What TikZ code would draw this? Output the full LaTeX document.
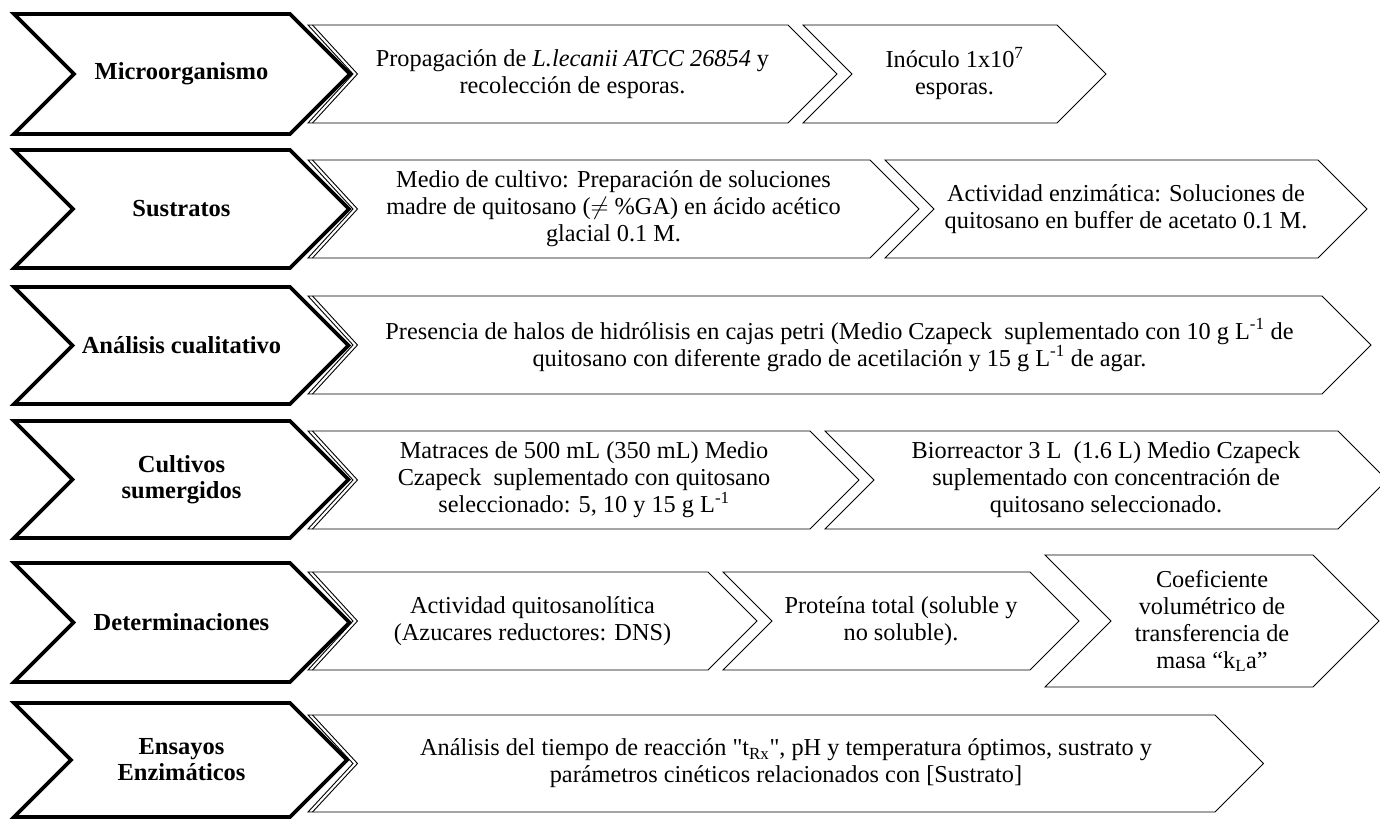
\documentclass[tikz,border=0pt]{standalone}
\usepackage{fontspec}
\setmainfont{Liberation Serif}
\tikzset{
  headbox/.style={draw=black, line width=3.6pt, fill=white, line join=miter},
  stepbox/.style={draw=black, line width=0.9pt, fill=white, line join=miter},
  twinline/.style={draw=black, line width=0.9pt},
  headtxt/.style={font=\fontsize{24.5}{26}\selectfont\bfseries, align=center, inner sep=0pt},
  bodytxt/.style={font=\fontsize{24.3}{27}\selectfont, align=center, inner sep=0pt}
}
% generic chevron: #1 style, #2 left x, #3 corner x, #4 top y, #5 bottom y
\newcommand\chevpath[5]{%
  \pgfmathsetmacro\chd{(#5-#4)/2}%
  \pgfmathsetmacro\chm{(#4+#5)/2}%
  \draw[#1] (#2,#4) -- (#3,#4) -- ({#3+\chd},\chm) -- (#3,#5) -- (#2,#5) -- ({#2+\chd},\chm) -- cycle;}
% first step box of a row, with doubled notch: #1 corner x, #2 top y, #3 bottom y
\newcommand\firstbox[3]{%
  \pgfmathsetmacro\chd{(#3-#2)/2}%
  \pgfmathsetmacro\chm{(#2+#3)/2}%
  \draw[stepbox] (308,#2) -- (#1,#2) -- ({#1+\chd},\chm) -- (#1,#3) -- (308,#3) -- (353,\chm) -- cycle;
  \draw[twinline] (312.5,#2) -- (357.5,\chm) -- (312.5,#3);}
\begin{document}
\begin{tikzpicture}[x=1pt,y=-1pt]
\useasboundingbox (0,0) rectangle (1380,819);
\fill[white] (0,0) rectangle (1380,819);

% ---------- row 1
\firstbox{788}{25}{123}
\chevpath{stepbox}{803}{1057}{25}{123}
\chevpath{headbox}{14}{290}{14}{134}
\node[headtxt] (h1) at (181.5,74) {Microorganismo};
\node[bodytxt] (b11) at (572.5,74) {Propagaci\'on de \textit{L.lecanii ATCC 26854} y\\recolecci\'on de esporas.};
\node[bodytxt] (b12) at (954.5,74) {In\'oculo 1x10\textsuperscript{7}\\esporas.};

% ---------- row 2
\firstbox{870}{160}{258}
\chevpath{stepbox}{885}{1318}{160}{258}
\chevpath{headbox}{14}{290}{150}{268}
\node[headtxt] (h2) at (181.5,209) {Sustratos};
\node[bodytxt] (b21) at (613.5,209) {Medio de cultivo: Preparaci\'on de soluciones\\madre de quitosano ($\neq$ \%GA) en \'acido ac\'etico\\glacial 0.1 M.};
\node[bodytxt] (b22) at (1126,209) {Actividad enzim\'atica: Soluciones de\\quitosano en buffer de acetato 0.1 M.};

% ---------- row 3
\firstbox{1322}{296}{394}
\chevpath{headbox}{14}{290}{287}{404}
\node[headtxt] (h3) at (181.5,345.5) {An\'alisis cualitativo};
\node[bodytxt] (b31) at (839.5,345) {Presencia de halos de hidr\'olisis en cajas petri (Medio Czapeck\ \ suplementado con 10 g L\textsuperscript{-1} de\\quitosano con diferente grado de acetilaci\'on y 15 g L\textsuperscript{-1} de agar.};

% ---------- row 4
\firstbox{810}{431}{529}
\chevpath{stepbox}{825}{1338}{431}{529}
\chevpath{headbox}{14}{290}{421}{538}
\node[headtxt] (h4) at (181.5,479.5) {Cultivos\\sumergidos};
\node[bodytxt] (b41) at (584,480) {Matraces de 500 mL (350 mL) Medio\\Czapeck\ \ suplementado con quitosano\\seleccionado: 5, 10 y 15 g L\textsuperscript{-1}};
\node[bodytxt] (b42) at (1106,480) {Biorreactor 3 L\ \ (1.6 L) Medio Czapeck\\suplementado con concentraci\'on de\\quitosano seleccionado.};

% ---------- row 5
\firstbox{708}{572}{670}
\chevpath{stepbox}{723}{1030}{572}{670}
\chevpath{stepbox}{1045}{1313}{555}{687}
\chevpath{headbox}{14}{290}{563}{682}
\node[headtxt] (h5) at (181.5,622.5) {Determinaciones};
\node[bodytxt] (b51) at (532.5,621) {Actividad quitosanol\'{\i}tica\\(Azucares reductores: DNS)};
\node[bodytxt] (b52) at (901,621) {Prote\'{\i}na total (soluble y\\no soluble).};
\node[bodytxt] (b53) at (1212,621) {Coeficiente\\volum\'etrico de\\transferencia de\\masa \textquotedblleft k\textsubscript{L}a\textquotedblright};

% ---------- row 6
\firstbox{1215}{715}{812}
\chevpath{headbox}{14}{290}{703}{817}
\node[headtxt] (h6) at (181.5,760) {Ensayos\\Enzim\'aticos};
\node[bodytxt] (b61) at (786,763) {An\'alisis del tiempo de reacci\'on \textquotedbl t\textsubscript{Rx}\textquotedbl, pH y temperatura \'optimos, sustrato y\\par\'ametros cin\'eticos relacionados con [Sustrato]};
\end{tikzpicture}
\end{document}
